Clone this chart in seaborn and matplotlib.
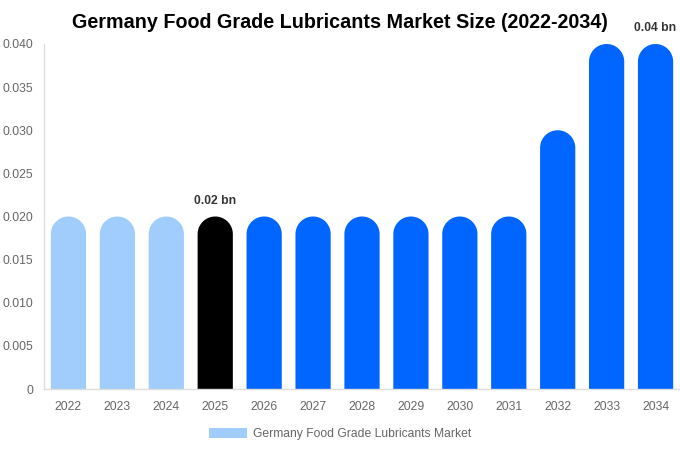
import numpy as np
import pandas as pd
import seaborn as sns
import matplotlib
matplotlib.use("Agg")
import matplotlib.pyplot as plt
from matplotlib.path import Path
from matplotlib.patches import PathPatch, Patch

years = ["2022", "2023", "2024", "2025", "2026", "2027", "2028",
         "2029", "2030", "2031", "2032", "2033", "2034"]
values = [0.02, 0.02, 0.02, 0.02, 0.02, 0.02, 0.02,
          0.02, 0.02, 0.02, 0.03, 0.04, 0.04]
bar_colors = ["#a0cdfc"] * 3 + ["#000000"] + ["#0066ff"] * 9
labels = {"2025": "0.02 bn", "2034": "0.04 bn"}
series_name = "Germany Food Grade Lubricants Market"

sns.set_style("white")
plt.rcParams["font.family"] = ["Liberation Sans", "DejaVu Sans"]

df = pd.DataFrame({"year": years, "value": values})

fig = plt.figure(figsize=(6.8, 4.5), dpi=100)
ax = fig.add_axes([44 / 680, 61 / 450, 636 / 680, 345 / 450])
sns.barplot(data=df, x="year", y="value", hue="year", palette=bar_colors,
            legend=False, width=0.72, ax=ax, saturation=1)
ax.set_ylim(0, 0.04)
ax.set_xlim(-0.5, len(years) - 0.5)

# round the tops of the bars (semi-circle in pixels)
px_per_x = ax.transData.transform((1, 0))[0] - ax.transData.transform((0, 0))[0]
px_per_y = ax.transData.transform((0, 1))[1] - ax.transData.transform((0, 0))[1]
for p in list(ax.patches):
    x0 = p.get_x()
    w = p.get_width()
    h = p.get_height()
    c = p.get_facecolor()
    p.remove()
    rx = w / 2
    ry = rx * px_per_x / px_per_y
    t = np.linspace(np.pi, 0, 40)
    arc = np.column_stack([x0 + rx + rx * np.cos(t), h - ry + ry * np.sin(t)])
    verts = np.vstack([[x0, 0], arc, [x0 + w, 0], [x0, 0]])
    codes = [Path.MOVETO] + [Path.LINETO] * (len(verts) - 2) + [Path.CLOSEPOLY]
    ax.add_patch(PathPatch(Path(verts, codes), facecolor=c, edgecolor="none"))

for i, y in enumerate(years):
    if y in labels:
        ax.annotate(labels[y], (i, values[i]), xytext=(0, 7),
                    textcoords="offset points", ha="center", va="bottom",
                    fontsize=8.7, fontweight="bold", color="#333333",
                    annotation_clip=False)

ax.set_yticks([0, 0.005, 0.01, 0.015, 0.02, 0.025, 0.03, 0.035, 0.04])
ax.set_yticklabels(["0", "0.005", "0.010", "0.015", "0.020", "0.025",
                    "0.030", "0.035", "0.040"])
ax.tick_params(axis="both", length=0, labelsize=8.7, labelcolor="#666666")
ax.tick_params(axis="x", pad=9)
ax.tick_params(axis="y", pad=8)
ax.set_xlabel("")
ax.set_ylabel("")
for s in ["top", "right"]:
    ax.spines[s].set_visible(False)
for s in ["left", "bottom"]:
    ax.spines[s].set_color("#dddddd")
    ax.spines[s].set_linewidth(1)

fig.suptitle("Germany Food Grade Lubricants Market Size (2022-2034)",
             x=0.5, y=1 - 23 / 450, va="center", fontsize=14.2,
             fontweight="bold", color="black")

handle = Patch(facecolor="#a0cdfc", edgecolor="none")
fig.legend([handle], [series_name], loc="center", bbox_to_anchor=(340 / 680, 1 - 434 / 450),
           frameon=False, fontsize=8.7, labelcolor="#666666",
           handlelength=3.2, handleheight=0.9, handletextpad=0.5)

fig.savefig("out.png", dpi=100)
